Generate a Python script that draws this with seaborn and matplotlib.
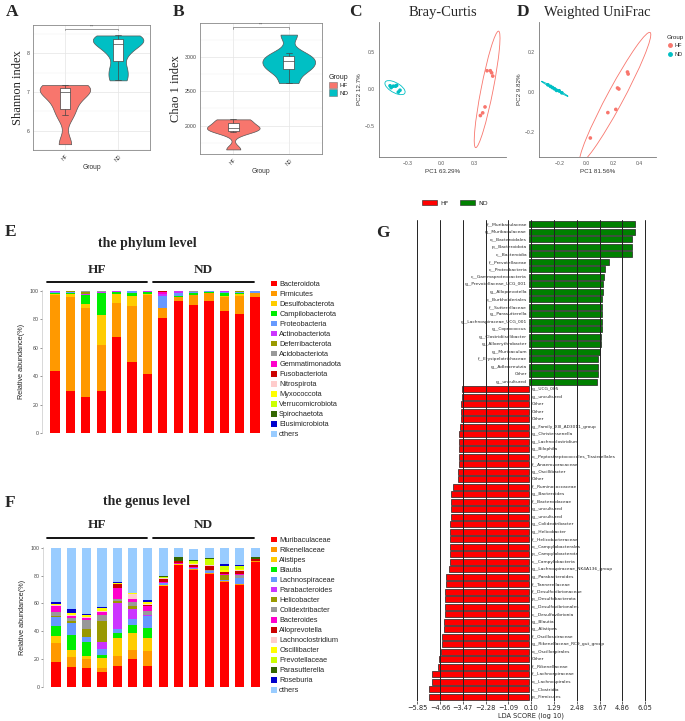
import numpy as np
import pandas as pd
import matplotlib
matplotlib.use("Agg")
import matplotlib.pyplot as plt
import seaborn as sns
from matplotlib.patches import Ellipse, Patch
from matplotlib.lines import Line2D

# ---------------- data ----------------
group_names = ["HF", "ND"]

# A / B: alpha diversity per sample
shannon_hf = [7.18, 7.12, 7.06, 7.00, 6.70, 6.40, 5.65]
shannon_nd = [8.46, 8.42, 8.30, 8.25, 8.00, 7.60, 7.30]
chao1_hf = [2090, 2080, 1985, 1960, 1950, 1900, 1650]
chao1_nd = [3330, 3060, 2980, 2940, 2850, 2800, 2620]

# C / D: PCoA coordinates
bray_hf_pc1 = [0.418, 0.448, 0.460, 0.470, 0.400, 0.379, 0.358]
bray_hf_pc2 = [0.248, 0.248, 0.220, 0.176, -0.240, -0.320, -0.356]
bray_nd_pc1 = [-0.460, -0.450, -0.430, -0.410, -0.400, -0.370, -0.385]
bray_nd_pc2 = [0.045, 0.020, 0.040, 0.040, 0.050, -0.015, -0.040]
unifrac_hf_pc1 = [0.310, 0.315, 0.235, 0.245, 0.222, 0.162, 0.030]
unifrac_hf_pc2 = [0.100, 0.090, 0.020, 0.015, -0.087, -0.103, -0.230]
unifrac_nd_pc1 = [-0.290, -0.270, -0.255, -0.240, -0.225, -0.205, -0.185]
unifrac_nd_pc2 = [0.036, 0.028, 0.022, 0.016, 0.008, 0.006, -0.004]

# E: phylum relative abundance (%), 7 HF + 7 ND samples
phylum_names = ["Bacteroidota", "Firmicutes", "Desulfobacterota", "Campilobacterota",
                "Proteobacteria", "Actinobacteriota", "Deferribacterota", "Acidobacteriota",
                "Gemmatimonadota", "Fusobacteriota", "Nitrospirota", "Myxococcota",
                "Verrucomicrobiota", "Spirochaetota", "Elusimicrobiota", "others"]
phylum_abund = [
    [43.7, 29.7, 25.0, 29.2, 67.5, 50.2, 41.8, 81.1, 93.0, 90.2, 92.9, 85.5, 83.4, 95.8],
    [53.3, 66.1, 62.5, 32.3, 24.0, 38.8, 55.2, 6.4, 2.8, 6.8, 5.5, 10.0, 13.1, 2.5],
    [1.0, 1.7, 3.5, 21.5, 6.5, 7.5, 1.0, 0.2, 0.1, 0.3, 0.2, 0.5, 1.5, 0.2],
    [0.3, 1.0, 6.0, 15.5, 1.0, 2.0, 1.0, 0.5, 0.1, 1.0, 0.6, 2.5, 0.3, 0.1],
    [0.8, 0.6, 0.3, 0.2, 0.4, 1.0, 0.4, 8.3, 2.6, 0.5, 0.3, 0.4, 0.5, 1.3],
    [0.4, 0.3, 0.5, 0.2, 0.2, 0.2, 0.2, 1.0, 1.2, 0.2, 0.2, 1.0, 0.4, 0.0],
    [0.2, 0.3, 1.5, 0.4, 0.2, 0.1, 0.2, 0.3, 0.0, 0.2, 0.1, 0.0, 0.3, 0.0],
    [0.1, 0.2, 0.4, 0.5, 0.1, 0.1, 0.1, 0.2, 0.0, 0.5, 0.2, 0.0, 0.4, 0.0],
    [0.0, 0.0, 0.0, 0.0, 0.0, 0.0, 0.0, 1.2, 0.0, 0.0, 0.0, 0.0, 0.0, 0.0],
    [0.0, 0.0, 0.0, 0.0, 0.0, 0.0, 0.0, 0.3, 0.0, 0.0, 0.0, 0.0, 0.0, 0.0],
    [0.0, 0.0, 0.0, 0.0, 0.0, 0.0, 0.0, 0.3, 0.0, 0.0, 0.0, 0.0, 0.0, 0.0],
    [0.0, 0.0, 0.0, 0.0, 0.0, 0.0, 0.0, 0.0, 0.0, 0.0, 0.0, 0.0, 0.0, 0.0],
    [0.0, 0.0, 0.0, 0.0, 0.0, 0.0, 0.0, 0.0, 0.0, 0.0, 0.0, 0.0, 0.0, 0.0],
    [0.0, 0.0, 0.0, 0.0, 0.0, 0.0, 0.0, 0.0, 0.0, 0.0, 0.0, 0.0, 0.0, 0.0],
    [0.0, 0.0, 0.0, 0.0, 0.0, 0.0, 0.0, 0.0, 0.0, 0.0, 0.0, 0.0, 0.0, 0.0],
    [0.2, 0.1, 0.3, 0.2, 0.1, 0.1, 0.1, 0.2, 0.2, 0.3, 0.0, 0.1, 0.1, 0.1],
]

# F: genus relative abundance (%)
genus_names = ["Muribaculaceae", "Rikenellaceae", "Alistipes", "Blautia", "Lachnospiraceae",
               "Parabacteroides", "Helicobacter", "Colidextribacter", "Bacteroides",
               "Alloprevotella", "Lachnoclostridium", "Oscillibacter", "Prevotellaceae",
               "Parasutterella", "Roseburia", "others"]
genus_abund = [
    [17.6, 14.0, 13.3, 10.5, 14.8, 20.2, 14.8, 72.4, 87.4, 84.3, 81.0, 75.7, 73.3, 89.8],
    [13.8, 7.7, 6.7, 3.3, 7.8, 6.5, 11.2, 0.2, 0.5, 0.2, 0.5, 0.2, 0.5, 0.4],
    [5.3, 4.7, 1.9, 6.9, 12.4, 11.9, 9.5, 0.5, 0.2, 0.3, 0.2, 0.5, 0.2, 0.2],
    [7.3, 11.0, 10.7, 2.6, 3.6, 5.9, 7.1, 0.1, 0.0, 0.0, 0.0, 0.0, 0.0, 0.0],
    [6.0, 8.3, 3.1, 4.1, 2.8, 4.3, 8.4, 1.1, 0.3, 0.5, 1.6, 0.7, 4.6, 0.3],
    [0.5, 0.3, 0.2, 5.2, 18.6, 7.2, 0.4, 0.2, 0.0, 0.0, 0.0, 0.0, 0.0, 0.0],
    [0.5, 1.3, 5.8, 14.8, 1.5, 2.3, 0.4, 0.1, 0.0, 0.0, 0.0, 3.1, 0.0, 0.0],
    [3.0, 2.0, 6.3, 4.3, 1.4, 2.4, 3.0, 0.2, 0.0, 0.3, 0.5, 0.3, 1.6, 0.0],
    [4.0, 1.5, 1.8, 1.9, 8.5, 2.3, 3.5, 0.6, 0.3, 0.6, 0.5, 0.3, 0.7, 0.0],
    [0.3, 0.2, 0.0, 0.1, 2.2, 0.5, 0.3, 2.2, 1.5, 1.5, 2.8, 1.8, 2.4, 1.1],
    [0.5, 0.5, 0.7, 1.0, 0.4, 3.2, 0.7, 0.3, 0.2, 0.8, 0.5, 0.3, 0.5, 0.3],
    [1.0, 1.8, 1.4, 2.2, 0.8, 0.7, 1.9, 0.2, 0.0, 0.2, 0.3, 0.8, 1.2, 0.0],
    [0.0, 0.0, 0.0, 0.0, 0.0, 0.0, 0.0, 0.6, 0.3, 1.5, 4.2, 3.0, 1.7, 0.0],
    [0.0, 0.0, 0.0, 0.0, 0.0, 0.0, 0.0, 0.8, 2.6, 0.8, 0.2, 0.2, 0.3, 1.2],
    [0.9, 2.4, 0.7, 0.7, 0.4, 0.0, 0.9, 0.1, 0.0, 0.0, 0.0, 1.2, 0.4, 0.0],
    [39.3, 44.3, 47.4, 42.4, 24.8, 32.6, 37.9, 20.4, 6.7, 8.0, 7.7, 11.9, 12.6, 6.7],
]

# G: LEfSe LDA scores
lda_nd_names = ["f__Muribaculaceae", "g__Muribaculaceae", "o__Bacteroidales", "p__Bacteroidota",
                "c__Bacteroidia", "f__Prevotellaceae", "c__Proteobacteria",
                "c__Gammaproteobacteria", "g__Prevotellaceae_UCG_001", "g__Alloprevotella",
                "o__Burkholderiales", "f__Sutterellaceae", "g__Parasutterella",
                "g__Lachnospiraceae_UCG_001", "g__Coprococcus", "g__Clostridiisalibacter",
                "g__Alloerythrobacter", "g__Muribaculum", "f__Erysipelotrichaceae",
                "g__Adlercreutzia", "Other", "g__uncultured"]
lda_nd_scores = [5.53, 5.53, 5.39, 5.39, 5.39, 4.19, 3.95, 3.89, 3.86, 3.84, 3.82,
                 3.79, 3.79, 3.79, 3.79, 3.75, 3.74, 3.72, 3.61, 3.60, 3.58, 3.56]
lda_hf_names = ["g__UCG_005", "g__uncultured", "Other", "Other", "Other",
                "g__Family_XIII_AD3011_group", "g__Christensenella", "g__Lachnoclostridium",
                "g__Bilophila", "o__Peptostreptococcales_Tissierellales", "f__Anaerovoracaceae",
                "g__Oscillibacter", "Other", "f__Ruminococcaceae", "g__Bacteroides",
                "f__Bacteroidaceae", "g__uncultured", "g__uncultured", "g__Colidextribacter",
                "g__Helicobacter", "f__Helicobacteraceae", "o__Campylobacterales",
                "p__Campylobacterota", "c__Campylobacteria",
                "g__Lachnospiraceae_NK4A136_group", "g__Parabacteroides", "f__Tannerellaceae",
                "f__Desulfovibrionaceae", "p__Desulfobacterota", "o__Desulfovibrionales",
                "c__Desulfovibrionia", "g__Blautia", "g__Alistipes", "f__Oscillospiraceae",
                "g__Rikenellaceae_RC9_gut_group", "o__Oscillospirales", "Other",
                "f__Rikenellaceae", "f__Lachnospiraceae", "o__Lachnospirales", "c__Clostridia",
                "p__Firmicutes"]
lda_hf_scores = [-3.53, -3.53, -3.58, -3.58, -3.58, -3.61, -3.65, -3.65, -3.67, -3.68,
                 -3.68, -3.70, -3.72, -3.98, -4.09, -4.11, -4.11, -4.11, -4.12, -4.14,
                 -4.16, -4.16, -4.16, -4.16, -4.21, -4.33, -4.33, -4.42, -4.42, -4.42,
                 -4.42, -4.47, -4.47, -4.54, -4.54, -4.61, -4.70, -4.79, -5.09, -5.09,
                 -5.23, -5.23]
lda_ticks = [-5.85, -4.66, -3.47, -2.28, -1.09, 0.10, 1.29, 2.48, 3.67, 4.86, 6.05]

# ---------------- styles ----------------
group_colors = {"HF": "#F8766D", "ND": "#00BFC4"}
taxa_colors = ["#FF0000", "#FF9900", "#FFCC00", "#00EE00", "#6699FF", "#CC33FF", "#999900",
               "#999999", "#FF00CC", "#CC0000", "#FFCCCC", "#FFFF00", "#CCFF00", "#336600",
               "#0000CC", "#99CCFF"]
SANS = "Liberation Sans"
SERIF = "Liberation Serif"

sns.set_theme(style="white")
plt.rcParams["font.family"] = [SANS, "DejaVu Sans"]

W, H = 685, 721
fig = plt.figure(figsize=(W / 100, H / 100), dpi=100)


def px_rect(x0, y0, x1, y1):
    return [x0 / W, 1 - y1 / H, (x1 - x0) / W, (y1 - y0) / H]


alpha_df = pd.DataFrame({
    "Group": ["HF"] * len(shannon_hf) + ["ND"] * len(shannon_nd),
    "Shannon": shannon_hf + shannon_nd,
    "Chao1": chao1_hf + chao1_nd,
})


def violin_panel(ax, col, ylim, yticks, minor_step, ylabel, bracket_y, bw):
    sns.violinplot(data=alpha_df, x="Group", y=col, hue="Group", order=group_names,
                   palette=group_colors, cut=0, inner=None, density_norm="area", width=0.95,
                   bw_adjust=bw, saturation=1, linewidth=0.5, linecolor="#555555",
                   legend=False, ax=ax)
    sns.boxplot(data=alpha_df, x="Group", y=col, order=group_names, width=0.2, color="white",
                saturation=1, linecolor="#444444", linewidth=0.5, showfliers=False, ax=ax)
    ax.set_ylim(*ylim)
    ax.set_xlim(-0.6, 1.6)
    ax.set_yticks(yticks)
    ax.set_yticks(np.arange(yticks[0] - minor_step, ylim[1], 2 * minor_step), minor=True)
    ax.grid(True, which="major", color="#E5E5E5", lw=0.5)
    ax.grid(True, which="minor", axis="y", color="#F0F0F0", lw=0.3)
    ax.set_axisbelow(True)
    for s in ax.spines.values():
        s.set_color("#888888")
        s.set_linewidth(0.6)
    ax.tick_params(labelsize=3.8, length=1.5, width=0.4, colors="#444444", pad=1)
    ax.tick_params(which="minor", length=0)
    plt.setp(ax.get_xticklabels(), rotation=45)
    ax.set_xlabel("Group", fontsize=4.8, labelpad=1, color="#333333")
    ax.set_ylabel(ylabel, fontsize=9, family=SERIF, labelpad=2)
    tick = (ylim[1] - ylim[0]) * 0.012
    ax.plot([0, 0, 1, 1], [bracket_y - tick, bracket_y, bracket_y, bracket_y - tick],
            color="#777777", lw=0.5)
    ax.text(0.5, bracket_y + tick * 0.3, "***", ha="center", va="bottom", fontsize=2.5,
            color="#555555")


ax_a = fig.add_axes(px_rect(33, 25, 150, 150))
violin_panel(ax_a, "Shannon", (5.51, 8.73), [6, 7, 8], 0.5, "Shannon index", 8.63, 0.6)
ax_b = fig.add_axes(px_rect(200, 23, 322, 154))
violin_panel(ax_b, "Chao1", (1583, 3500), [2000, 2500, 3000], 250, "Chao 1 index", 3440, 0.6)
fig.legend(handles=[Patch(facecolor=group_colors[g], edgecolor="#777777", lw=0.4) for g in group_names],
           labels=group_names, title="Group", loc="upper left",
           bbox_to_anchor=(323 / W, 1 - 68 / H), frameon=False, fontsize=4.5,
           title_fontsize=5, handlelength=1.3, handleheight=1.3, labelspacing=0.15,
           handletextpad=0.4, alignment="left")


def add_ellipse(ax, x, y, color):
    pts = np.column_stack([x, y])
    cov = np.cov(pts, rowvar=False)
    vals, vecs = np.linalg.eigh(cov)
    scale = 2.75  # approx. radius of the 95% ellipse for n = 7
    angle = np.degrees(np.arctan2(vecs[1, 1], vecs[0, 1]))
    ax.add_patch(Ellipse(pts.mean(axis=0), 2 * scale * np.sqrt(vals[1]),
                         2 * scale * np.sqrt(vals[0]), angle=angle, fill=False,
                         ec=color, lw=0.6))


def pcoa_panel(ax, hx, hy, nx, ny, xlim, ylim, xticks, yticks, xlabel, ylabel, title):
    df = pd.DataFrame({"PC1": hx + nx, "PC2": hy + ny,
                       "Group": ["HF"] * len(hx) + ["ND"] * len(nx)})
    sns.scatterplot(data=df, x="PC1", y="PC2", hue="Group", palette=group_colors, s=7,
                    linewidth=0, legend=False, ax=ax)
    for g, sub in df.groupby("Group"):
        add_ellipse(ax, sub["PC1"].values, sub["PC2"].values, group_colors[g])
    ax.set_xlim(*xlim)
    ax.set_ylim(*ylim)
    ax.set_xticks(xticks)
    ax.set_yticks(yticks)
    ax.set_xticklabels([f"{t:.1f}".replace("-", "\u2212") for t in xticks])
    ax.set_yticklabels([f"{t:.1f}".replace("-", "\u2212") for t in yticks])
    for side in ["top", "right"]:
        ax.spines[side].set_visible(False)
    for side in ["left", "bottom"]:
        ax.spines[side].set_color("#777777")
        ax.spines[side].set_linewidth(0.6)
    ax.tick_params(labelsize=3.6, length=1.5, width=0.4, colors="#555555", pad=1.5)
    ax.set_xlabel(xlabel, fontsize=4.5, labelpad=2, color="#333333")
    ax.set_ylabel(ylabel, fontsize=4.5, labelpad=2, color="#333333")
    ax.set_title(title, fontsize=10.5, family=SERIF, pad=4)


ax_c = fig.add_axes(px_rect(379, 22, 506, 157))
pcoa_panel(ax_c, bray_hf_pc1, bray_hf_pc2, bray_nd_pc1, bray_nd_pc2, (-0.56, 0.59),
           (-0.915, 0.905), [-0.3, 0.0, 0.3], [-0.5, 0.0, 0.5], "PC1 63.29%", "PC2 12.7%",
           "Bray-Curtis")
ax_d = fig.add_axes(px_rect(539, 22, 656, 157))
pcoa_panel(ax_d, unifrac_hf_pc1, unifrac_hf_pc2, unifrac_nd_pc1, unifrac_nd_pc2,
           (-0.357, 0.525), (-0.325, 0.35), [-0.2, 0.0, 0.2, 0.4], [-0.2, 0.0, 0.2],
           "PC1 81.56%", "PC2 9.82%", "Weighted UniFrac")
fig.legend(handles=[Line2D([], [], marker="o", ls="", color=group_colors[g], ms=2.5)
                    for g in group_names],
           labels=group_names, title="Group", loc="upper left",
           bbox_to_anchor=(662 / W, 1 - 30 / H), frameon=False, fontsize=4,
           title_fontsize=4.5, handlelength=1.0, labelspacing=0.6, handletextpad=0.3,
           alignment="left")


def stacked_panel(ax, names, rows, legend_top):
    x = np.arange(len(rows[0]))
    bottom = np.zeros(len(x))
    for name, vals, c in zip(names, rows, taxa_colors):
        ax.bar(x, vals, bottom=bottom, width=0.6, color=c, label=name, linewidth=0)
        bottom += np.array(vals)
    ax.set_xlim(-0.85, 13.45)
    ax.set_ylim(0, 100.5)
    ax.set_yticks([0, 20, 40, 60, 80, 100])
    ax.set_xticks([])
    for side in ["top", "right", "bottom"]:
        ax.spines[side].set_visible(False)
    ax.spines["left"].set_color("#BBBBBB")
    ax.spines["left"].set_linewidth(0.4)
    ax.tick_params(axis="y", labelsize=3.8, length=1.5, width=0.4, colors="#444444", pad=1,
                   left=True)
    ax.set_ylabel("Relative abundance(%)", fontsize=5.2, labelpad=3, color="#222222")
    ax.legend(loc="upper left", bbox_to_anchor=(267 / W, 1 - legend_top / H),
              bbox_transform=fig.transFigure, frameon=False, fontsize=5.3,
              handlelength=0.8, handleheight=0.8, handletextpad=0.35, labelspacing=0.36,
              borderpad=0)


ax_e = fig.add_axes(px_rect(42, 290, 262, 433))
stacked_panel(ax_e, phylum_names, phylum_abund, 277)
ax_f = fig.add_axes(px_rect(43, 547, 262, 687))
stacked_panel(ax_f, genus_names, genus_abund, 533)

# G: LDA bars
lda_df = pd.DataFrame({
    "pos": [str(i) for i in range(len(lda_nd_names) + len(lda_hf_names))],
    "LDA": lda_nd_scores + lda_hf_scores,
    "Group": ["ND"] * len(lda_nd_names) + ["HF"] * len(lda_hf_names),
    "name": lda_nd_names + lda_hf_names,
})
ax_g = fig.add_axes(px_rect(415, 220, 647, 701))
sns.barplot(data=lda_df, x="LDA", y="pos", hue="Group",
            palette={"HF": "#FF0000", "ND": "#008000"}, dodge=False, width=0.8,
            saturation=1, edgecolor="#222222", linewidth=0.5, errorbar=None, legend=False,
            ax=ax_g)
for i, row in lda_df.iterrows():
    if row["LDA"] > 0:
        ax_g.text(-0.12, i, row["name"], ha="right", va="center", fontsize=3.2,
                  family="DejaVu Sans", zorder=4)
    else:
        ax_g.text(0.12, i, row["name"], ha="left", va="center", fontsize=3.2,
                  family="DejaVu Sans", zorder=4)
ax_g.set_xlim(-5.97, 6.15)
ax_g.set_ylim(len(lda_df) - 0.4, -0.6)
ax_g.set_xticks(lda_ticks)
ax_g.set_xticklabels([f"{t:.2f}".replace("-", "\u2212") for t in lda_ticks],
                     family="DejaVu Sans")
ax_g.set_yticks([])
ax_g.set_ylabel("")
ax_g.set_xlabel("LDA SCORE (log 10)", fontsize=4.8, family="DejaVu Sans", labelpad=1)
ax_g.tick_params(axis="x", labelsize=4.8, length=2, width=0.5, pad=1, bottom=True)
ax_g.grid(True, axis="x", color="#222222", lw=0.7)
ax_g.set_axisbelow(False)
for s in ax_g.spines.values():
    s.set_visible(False)
fig.legend(handles=[Patch(facecolor="#FF0000", edgecolor="#222222", lw=0.4),
                    Patch(facecolor="#008000", edgecolor="#222222", lw=0.4)],
           labels=["HF", "ND"], loc="center left", bbox_to_anchor=(416 / W, 1 - 203 / H),
           ncol=2, frameon=False, handlelength=2.4, handleheight=0.7,
           columnspacing=1.8, handletextpad=0.6, prop={"family": "DejaVu Sans", "size": 4.5})

# overlay for panel letters, titles, group bars
ov = fig.add_axes([0, 0, 1, 1])
ov.set_xlim(0, W)
ov.set_ylim(H, 0)
ov.axis("off")
ov.patch.set_alpha(0)
for letter, lx, ly in [("A", 6, 12), ("B", 173, 12), ("C", 349, 12), ("D", 517, 12),
                       ("E", 5, 232), ("F", 5, 503), ("G", 376, 233)]:
    ov.text(lx, ly, letter, fontsize=12.5, fontweight="bold", family=SERIF,
            ha="left", va="center")
for title, ty in [("the phylum level", 244), ("the genus level", 502)]:
    ov.text(147, ty, title, fontsize=10, fontweight="bold", family=SERIF,
            ha="center", va="center")
for gy, ly in [(270, 282), (525, 538)]:
    ov.text(97, gy, "HF", fontsize=9.5, fontweight="bold", family=SERIF, ha="center",
            va="center")
    ov.text(203, gy, "ND", fontsize=9.5, fontweight="bold", family=SERIF, ha="center",
            va="center")
    ov.plot([47, 147], [ly, ly], color="black", lw=1.3)
    ov.plot([153, 254], [ly, ly], color="black", lw=1.3)

fig.savefig("out.png", dpi=100)
